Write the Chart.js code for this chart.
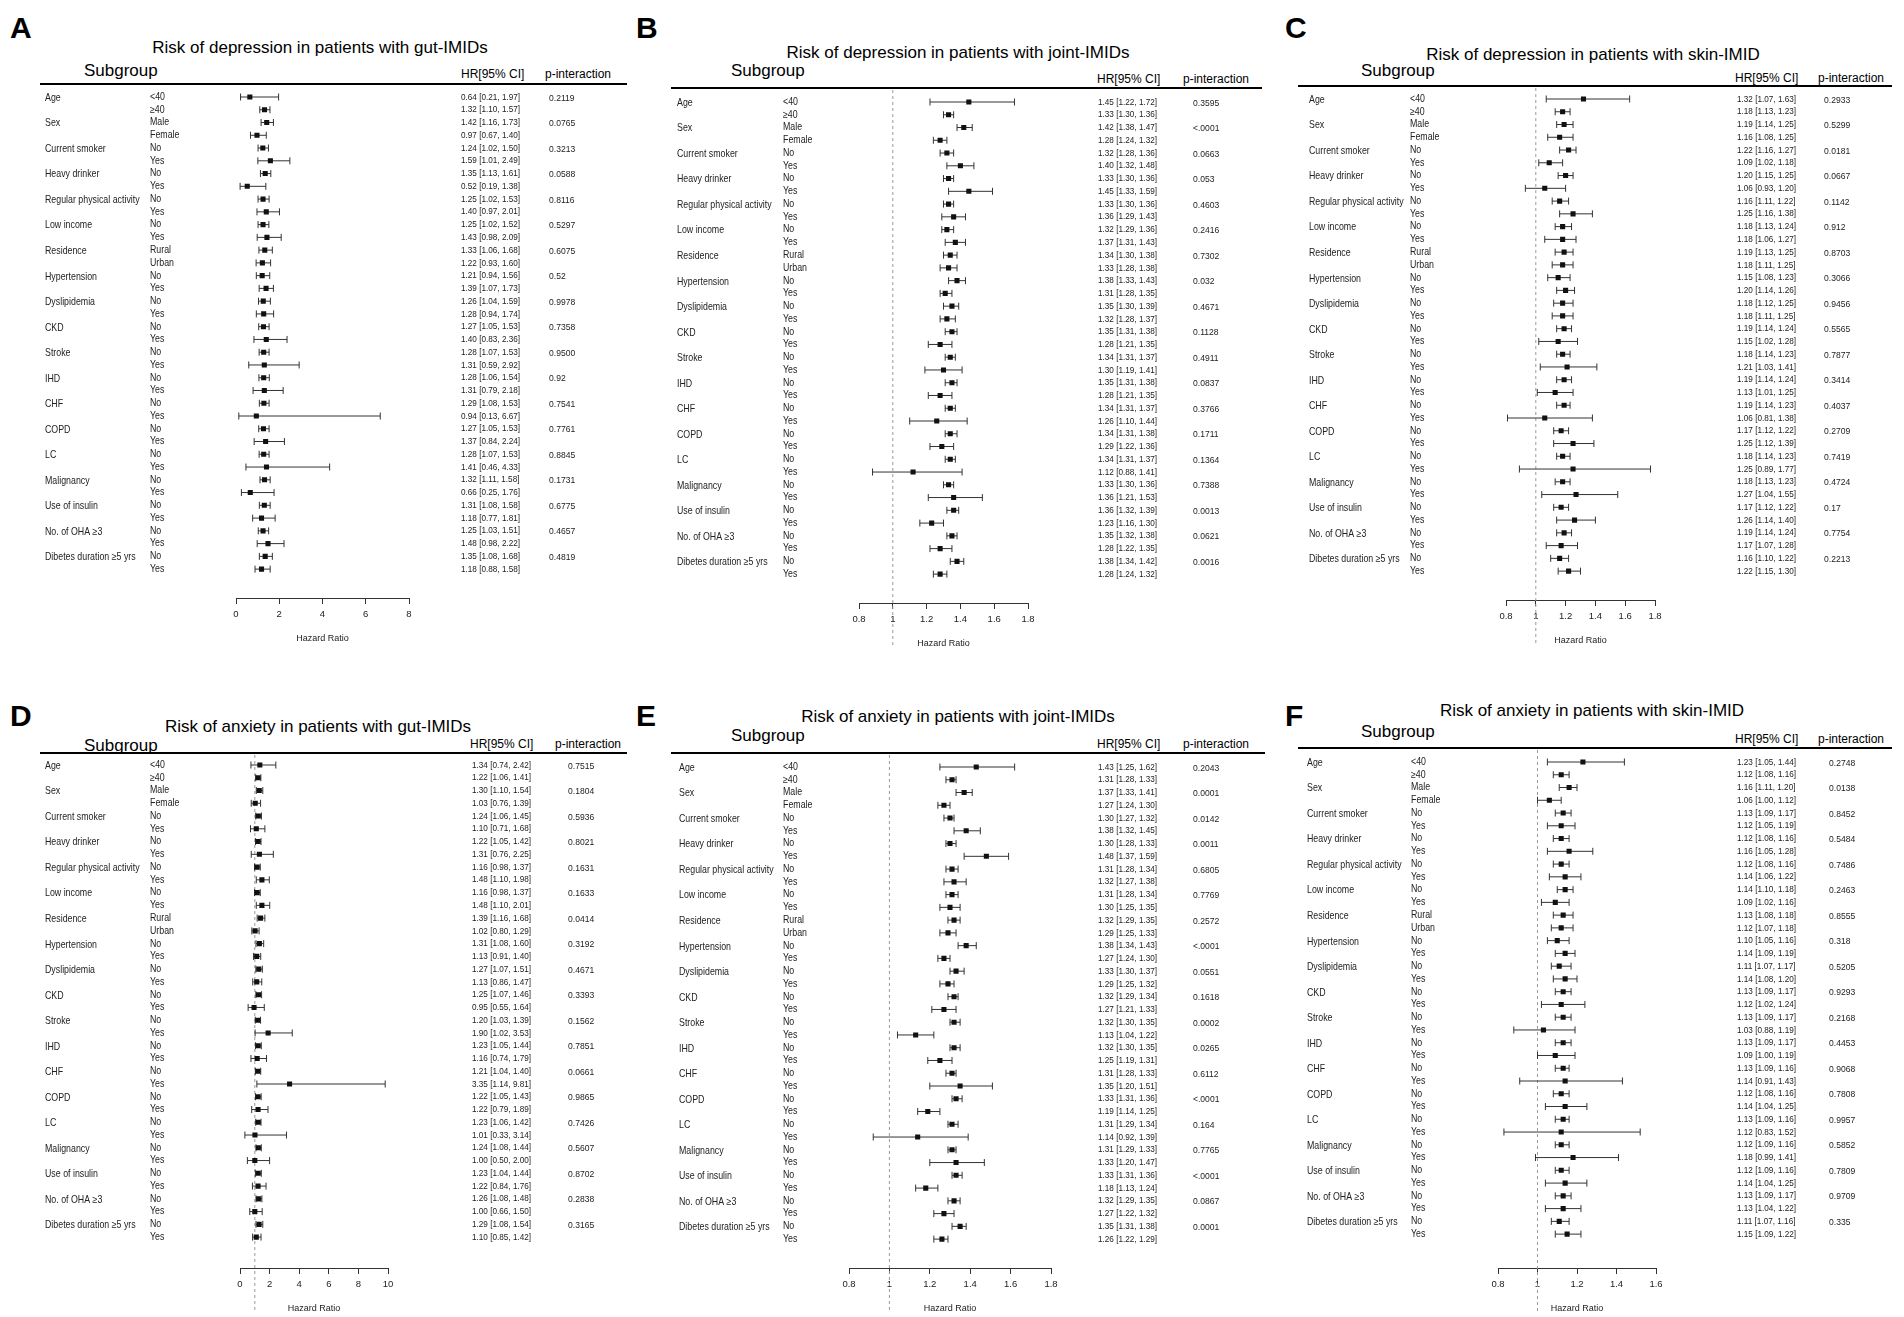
<!DOCTYPE html>
<html>
<head>
<meta charset="utf-8">
<script src="https://cdn.jsdelivr.net/npm/chart.js@4.4.1/dist/chart.umd.min.js"></script>
<style>
body { margin: 0; background: #fff; width: 1904px; height: 1317px; position: relative; overflow: hidden; font-family: "Liberation Sans", Arial, sans-serif; }
.box { position: absolute; }
.t { position: absolute; white-space: nowrap; color: #111; line-height: 1; transform: translateY(-50%); }
.hl { position: absolute; height: 1.5px; background: #000; }
</style>
</head>
<body>
<script>
// row labels shared by all six panels
const groupLabels = ['Age', 'Sex', 'Current smoker', 'Heavy drinker', 'Regular physical activity', 'Low income',
    'Residence', 'Hypertension', 'Dyslipidemia', 'CKD', 'Stroke', 'IHD', 'CHF', 'COPD', 'LC', 'Malignancy',
    'Use of insulin', 'No. of OHA ≥3', 'Dibetes duration ≥5 yrs'];
const levelLabels = ['<40', '≥40', 'Male', 'Female', 'No', 'Yes', 'No', 'Yes', 'No', 'Yes', 'No', 'Yes',
    'Rural', 'Urban', 'No', 'Yes', 'No', 'Yes', 'No', 'Yes', 'No', 'Yes', 'No', 'Yes', 'No', 'Yes',
    'No', 'Yes', 'No', 'Yes', 'No', 'Yes', 'No', 'Yes', 'No', 'Yes', 'No', 'Yes'];

// A: depression, gut-IMIDs
const aHR = [0.64, 1.32, 1.42, 0.97, 1.24, 1.59, 1.35, 0.52, 1.25, 1.40, 1.25, 1.43, 1.33, 1.22, 1.21, 1.39, 1.26, 1.28, 1.27,
    1.40, 1.28, 1.31, 1.28, 1.31, 1.29, 0.94, 1.27, 1.37, 1.28, 1.41, 1.32, 0.66, 1.31, 1.18, 1.25, 1.48, 1.35, 1.18];
const aLow = [0.21, 1.10, 1.16, 0.67, 1.02, 1.01, 1.13, 0.19, 1.02, 0.97, 1.02, 0.98, 1.06, 0.93, 0.94, 1.07, 1.04, 0.94, 1.05,
    0.83, 1.07, 0.59, 1.06, 0.79, 1.08, 0.13, 1.05, 0.84, 1.07, 0.46, 1.11, 0.25, 1.08, 0.77, 1.03, 0.98, 1.08, 0.88];
const aHigh = [1.97, 1.57, 1.73, 1.40, 1.50, 2.49, 1.61, 1.38, 1.53, 2.01, 1.52, 2.09, 1.68, 1.60, 1.56, 1.73, 1.59, 1.74, 1.53,
    2.36, 1.53, 2.92, 1.54, 2.18, 1.53, 6.67, 1.53, 2.24, 1.53, 4.33, 1.58, 1.76, 1.58, 1.81, 1.51, 2.22, 1.68, 1.58];
const aP = ['0.2119', '0.0765', '0.3213', '0.0588', '0.8116', '0.5297', '0.6075', '0.52', '0.9978', '0.7358',
    '0.9500', '0.92', '0.7541', '0.7761', '0.8845', '0.1731', '0.6775', '0.4657', '0.4819'];
const aTicks = [0, 2, 4, 6, 8];

// B: depression, joint-IMIDs
const bHR = [1.45, 1.33, 1.42, 1.28, 1.32, 1.40, 1.33, 1.45, 1.33, 1.36, 1.32, 1.37, 1.34, 1.33, 1.38, 1.31, 1.35, 1.32, 1.35,
    1.28, 1.34, 1.30, 1.35, 1.28, 1.34, 1.26, 1.34, 1.29, 1.34, 1.12, 1.33, 1.36, 1.36, 1.23, 1.35, 1.28, 1.38, 1.28];
const bLow = [1.22, 1.30, 1.38, 1.24, 1.28, 1.32, 1.30, 1.33, 1.30, 1.29, 1.29, 1.31, 1.30, 1.28, 1.33, 1.28, 1.30, 1.28, 1.31,
    1.21, 1.31, 1.19, 1.31, 1.21, 1.31, 1.10, 1.31, 1.22, 1.31, 0.88, 1.30, 1.21, 1.32, 1.16, 1.32, 1.22, 1.34, 1.24];
const bHigh = [1.72, 1.36, 1.47, 1.32, 1.36, 1.48, 1.36, 1.59, 1.36, 1.43, 1.36, 1.43, 1.38, 1.38, 1.43, 1.35, 1.39, 1.37, 1.38,
    1.35, 1.37, 1.41, 1.38, 1.35, 1.37, 1.44, 1.38, 1.36, 1.37, 1.41, 1.36, 1.53, 1.39, 1.30, 1.38, 1.35, 1.42, 1.32];
const bP = ['0.3595', '<.0001', '0.0663', '0.053', '0.4603', '0.2416', '0.7302', '0.032', '0.4671', '0.1128',
    '0.4911', '0.0837', '0.3766', '0.1711', '0.1364', '0.7388', '0.0013', '0.0621', '0.0016'];
const bTicks = [0.8, 1, 1.2, 1.4, 1.6, 1.8];

// C: depression, skin-IMID
const cHR = [1.32, 1.18, 1.19, 1.16, 1.22, 1.09, 1.20, 1.06, 1.16, 1.25, 1.18, 1.18, 1.19, 1.18, 1.15, 1.20, 1.18, 1.18, 1.19,
    1.15, 1.18, 1.21, 1.19, 1.13, 1.19, 1.06, 1.17, 1.25, 1.18, 1.25, 1.18, 1.27, 1.17, 1.26, 1.19, 1.17, 1.16, 1.22];
const cLow = [1.07, 1.13, 1.14, 1.08, 1.16, 1.02, 1.15, 0.93, 1.11, 1.16, 1.13, 1.06, 1.13, 1.11, 1.08, 1.14, 1.12, 1.11, 1.14,
    1.02, 1.14, 1.03, 1.14, 1.01, 1.14, 0.81, 1.12, 1.12, 1.14, 0.89, 1.13, 1.04, 1.12, 1.14, 1.14, 1.07, 1.10, 1.15];
const cHigh = [1.63, 1.23, 1.25, 1.25, 1.27, 1.18, 1.25, 1.20, 1.22, 1.38, 1.24, 1.27, 1.25, 1.25, 1.23, 1.26, 1.25, 1.25, 1.24,
    1.28, 1.23, 1.41, 1.24, 1.25, 1.23, 1.38, 1.22, 1.39, 1.23, 1.77, 1.23, 1.55, 1.22, 1.40, 1.24, 1.28, 1.22, 1.30];
const cP = ['0.2933', '0.5299', '0.0181', '0.0667', '0.1142', '0.912', '0.8703', '0.3066', '0.9456', '0.5565',
    '0.7877', '0.3414', '0.4037', '0.2709', '0.7419', '0.4724', '0.17', '0.7754', '0.2213'];
const cTicks = [0.8, 1, 1.2, 1.4, 1.6, 1.8];

// D: anxiety, gut-IMIDs
const dHR = [1.34, 1.22, 1.30, 1.03, 1.24, 1.10, 1.22, 1.31, 1.16, 1.48, 1.16, 1.48, 1.39, 1.02, 1.31, 1.13, 1.27, 1.13, 1.25,
    0.95, 1.20, 1.90, 1.23, 1.16, 1.21, 3.35, 1.22, 1.22, 1.23, 1.01, 1.24, 1.00, 1.23, 1.22, 1.26, 1.00, 1.29, 1.10];
const dLow = [0.74, 1.06, 1.10, 0.76, 1.06, 0.71, 1.05, 0.76, 0.98, 1.10, 0.98, 1.10, 1.16, 0.80, 1.08, 0.91, 1.07, 0.86, 1.07,
    0.55, 1.03, 1.02, 1.05, 0.74, 1.04, 1.14, 1.05, 0.79, 1.06, 0.33, 1.08, 0.50, 1.04, 0.84, 1.08, 0.66, 1.08, 0.85];
const dHigh = [2.42, 1.41, 1.54, 1.39, 1.45, 1.68, 1.42, 2.25, 1.37, 1.98, 1.37, 2.01, 1.68, 1.29, 1.60, 1.40, 1.51, 1.47, 1.46,
    1.64, 1.39, 3.53, 1.44, 1.79, 1.40, 9.81, 1.43, 1.89, 1.42, 3.14, 1.44, 2.00, 1.44, 1.76, 1.48, 1.50, 1.54, 1.42];
const dP = ['0.7515', '0.1804', '0.5936', '0.8021', '0.1631', '0.1633', '0.0414', '0.3192', '0.4671', '0.3393',
    '0.1562', '0.7851', '0.0661', '0.9865', '0.7426', '0.5607', '0.8702', '0.2838', '0.3165'];
const dTicks = [0, 2, 4, 6, 8, 10];

// E: anxiety, joint-IMIDs
const eHR = [1.43, 1.31, 1.37, 1.27, 1.30, 1.38, 1.30, 1.48, 1.31, 1.32, 1.31, 1.30, 1.32, 1.29, 1.38, 1.27, 1.33, 1.29, 1.32,
    1.27, 1.32, 1.13, 1.32, 1.25, 1.31, 1.35, 1.33, 1.19, 1.31, 1.14, 1.31, 1.33, 1.33, 1.18, 1.32, 1.27, 1.35, 1.26];
const eLow = [1.25, 1.28, 1.33, 1.24, 1.27, 1.32, 1.28, 1.37, 1.28, 1.27, 1.28, 1.25, 1.29, 1.25, 1.34, 1.24, 1.30, 1.25, 1.29,
    1.21, 1.30, 1.04, 1.30, 1.19, 1.28, 1.20, 1.31, 1.14, 1.29, 0.92, 1.29, 1.20, 1.31, 1.13, 1.29, 1.22, 1.31, 1.22];
const eHigh = [1.62, 1.33, 1.41, 1.30, 1.32, 1.45, 1.33, 1.59, 1.34, 1.38, 1.34, 1.35, 1.35, 1.33, 1.43, 1.30, 1.37, 1.32, 1.34,
    1.33, 1.35, 1.22, 1.35, 1.31, 1.33, 1.51, 1.36, 1.25, 1.34, 1.39, 1.33, 1.47, 1.36, 1.24, 1.35, 1.32, 1.38, 1.29];
const eP = ['0.2043', '0.0001', '0.0142', '0.0011', '0.6805', '0.7769', '0.2572', '<.0001', '0.0551', '0.1618',
    '0.0002', '0.0265', '0.6112', '<.0001', '0.164', '0.7765', '<.0001', '0.0867', '0.0001'];
const eTicks = [0.8, 1, 1.2, 1.4, 1.6, 1.8];

// F: anxiety, skin-IMID
const fHR = [1.23, 1.12, 1.16, 1.06, 1.13, 1.12, 1.12, 1.16, 1.12, 1.14, 1.14, 1.09, 1.13, 1.12, 1.10, 1.14, 1.11, 1.14, 1.13,
    1.12, 1.13, 1.03, 1.13, 1.09, 1.13, 1.14, 1.12, 1.14, 1.13, 1.12, 1.12, 1.18, 1.12, 1.14, 1.13, 1.13, 1.11, 1.15];
const fLow = [1.05, 1.08, 1.11, 1.00, 1.09, 1.05, 1.08, 1.05, 1.08, 1.06, 1.10, 1.02, 1.08, 1.07, 1.05, 1.09, 1.07, 1.08, 1.09,
    1.02, 1.09, 0.88, 1.09, 1.00, 1.09, 0.91, 1.08, 1.04, 1.09, 0.83, 1.09, 0.99, 1.09, 1.04, 1.09, 1.04, 1.07, 1.09];
const fHigh = [1.44, 1.16, 1.20, 1.12, 1.17, 1.19, 1.16, 1.28, 1.16, 1.22, 1.18, 1.16, 1.18, 1.18, 1.16, 1.19, 1.17, 1.20, 1.17,
    1.24, 1.17, 1.19, 1.17, 1.19, 1.16, 1.43, 1.16, 1.25, 1.16, 1.52, 1.16, 1.41, 1.16, 1.25, 1.17, 1.22, 1.16, 1.22];
const fP = ['0.2748', '0.0138', '0.8452', '0.5484', '0.7486', '0.2463', '0.8555', '0.318', '0.5205', '0.9293',
    '0.2168', '0.4453', '0.9068', '0.7808', '0.9957', '0.5852', '0.7809', '0.9709', '0.335'];
const fTicks = [0.8, 1, 1.2, 1.4, 1.6];

const ROWFONT = '"Liberation Sans", Arial, sans-serif';

// panel placement (page pixels)
var panels = [
    { letter: 'A', title: 'Risk of depression in patients with gut-IMIDs', hr: aHR, lo: aLow, hi: aHigh, p: aP, ticks: aTicks,
      L: { letterX: 10, letterY: 28, titleX: 320, titleY: 47, subX: 84, subY: 70, headY: 74, hrHeadX: 461, pHeadX: 545,
           lineY: 83, x1: 40, x2: 627, row0: 97, rowH: 12.76, gx: 45, sx: 150, hx: 461, px: 549,
           px0: 236, px1: 409, axisY: 598, ref: false } },
    { letter: 'B', title: 'Risk of depression in patients with joint-IMIDs', hr: bHR, lo: bLow, hi: bHigh, p: bP, ticks: bTicks,
      L: { letterX: 636, letterY: 28, titleX: 958, titleY: 52, subX: 731, subY: 70, headY: 79, hrHeadX: 1097, pHeadX: 1183,
           lineY: 87, x1: 671, x2: 1262, row0: 102, rowH: 12.76, gx: 677, sx: 783, hx: 1098, px: 1193,
           px0: 859, px1: 1028, axisY: 603, ref: true } },
    { letter: 'C', title: 'Risk of depression in patients with skin-IMID', hr: cHR, lo: cLow, hi: cHigh, p: cP, ticks: cTicks,
      L: { letterX: 1285, letterY: 28, titleX: 1593, titleY: 54, subX: 1361, subY: 70, headY: 78, hrHeadX: 1735, pHeadX: 1818,
           lineY: 85, x1: 1298, x2: 1892, row0: 99, rowH: 12.76, gx: 1309, sx: 1410, hx: 1737, px: 1824,
           px0: 1506, px1: 1655, axisY: 600, ref: true } },
    { letter: 'D', title: 'Risk of anxiety in patients with gut-IMIDs', hr: dHR, lo: dLow, hi: dHigh, p: dP, ticks: dTicks,
      L: { letterX: 10, letterY: 716, titleX: 318, titleY: 726, subX: 84, subY: 745, headY: 744, hrHeadX: 470, pHeadX: 555,
           lineY: 752, x1: 40, x2: 627, row0: 765, rowH: 12.76, gx: 45, sx: 150, hx: 472, px: 568,
           px0: 240, px1: 388, axisY: 1268, ref: true } },
    { letter: 'E', title: 'Risk of anxiety in patients with joint-IMIDs', hr: eHR, lo: eLow, hi: eHigh, p: eP, ticks: eTicks,
      L: { letterX: 636, letterY: 716, titleX: 958, titleY: 716, subX: 731, subY: 735, headY: 744, hrHeadX: 1097, pHeadX: 1183,
           lineY: 752, x1: 671, x2: 1265, row0: 767, rowH: 12.76, gx: 679, sx: 783, hx: 1098, px: 1193,
           px0: 849, px1: 1051, axisY: 1268, ref: true } },
    { letter: 'F', title: 'Risk of anxiety in patients with skin-IMID', hr: fHR, lo: fLow, hi: fHigh, p: fP, ticks: fTicks,
      L: { letterX: 1285, letterY: 716, titleX: 1592, titleY: 710, subX: 1361, subY: 731, headY: 739, hrHeadX: 1735, pHeadX: 1818,
           lineY: 747, x1: 1298, x2: 1892, row0: 762, rowH: 12.76, gx: 1307, sx: 1411, hx: 1737, px: 1829,
           px0: 1498, px1: 1656, axisY: 1268, ref: true } }
];

function addText(txt, x, y, size, extra) {
    var d = document.createElement('div');
    d.className = 't';
    d.textContent = txt;
    d.style.left = x + 'px';
    d.style.top = y + 'px';
    d.style.fontSize = size + 'px';
    if (extra) d.style.cssText += extra;
    document.body.appendChild(d);
    return d;
}

function fmt(v) { return v.toFixed(2); }

// condensed text, like the narrow face of the original
function narrowText(ctx, s, x, y, sx) {
    ctx.save();
    ctx.translate(x, y);
    ctx.scale(sx, 1);
    ctx.fillText(s, 0, 0);
    ctx.restore();
}

// rows text, reference line: drawn with the chart's own scales
var forestText = {
    id: 'forestText',
    beforeDatasetsDraw(chart, args, opts) {
        if (!opts.ref) return;
        var ctx = chart.ctx;
        var x = chart.scales.x.getPixelForValue(1);
        ctx.save();
        ctx.strokeStyle = '#9a9a9a';
        ctx.lineWidth = 1;
        ctx.setLineDash([3, 3]);
        ctx.beginPath();
        ctx.moveTo(x, 2);
        ctx.lineTo(x, chart.height - 8);
        ctx.stroke();
        ctx.restore();
    },
    afterDraw(chart, args, opts) {
        var ctx = chart.ctx, ys = chart.scales.y;
        var P = opts.panel, L = P.L, off = opts.left;
        ctx.save();
        ctx.fillStyle = '#222';
        ctx.textBaseline = 'middle';
        ctx.textAlign = 'left';
        for (var i = 0; i < P.hr.length; i++) {
            var y = ys.getPixelForValue(i);
            ctx.font = '10.5px ' + ROWFONT;
            if (i % 2 === 0) narrowText(ctx, groupLabels[i / 2], L.gx - off, y + 1, 0.84);
            narrowText(ctx, levelLabels[i], L.sx - off, y, 0.84);
            ctx.font = '9.5px ' + ROWFONT;
            narrowText(ctx, fmt(P.hr[i]) + ' [' + fmt(P.lo[i]) + ', ' + fmt(P.hi[i]) + ']', L.hx - off, y, 0.86);
            if (i % 2 === 0) narrowText(ctx, P.p[i / 2], L.px - off, y + 1, 0.9);
        }
        ctx.restore();
    }
};

panels.forEach(function (P) {
    var L = P.L;
    addText(P.letter, L.letterX, L.letterY, 30, 'font-weight:bold;color:#000;');
    addText(P.title, L.titleX, L.titleY, 17, 'transform:translate(-50%,-50%);color:#000;');
    addText('Subgroup', L.subX, L.subY, 17, 'color:#000;');
    addText('HR[95% CI]', L.hrHeadX, L.headY, 12, 'color:#000;');
    addText('p-interaction', L.pHeadX, L.headY, 12, 'color:#000;');
    var hl = document.createElement('div');
    hl.className = 'hl';
    hl.style.left = L.x1 + 'px';
    hl.style.top = L.lineY + 'px';
    hl.style.width = (L.x2 - L.x1) + 'px';
    document.body.appendChild(hl);

    var cl = L.x1 - 8, ct = L.lineY + 1;
    var cw = L.x2 + 12 - cl, ch = L.axisY + 52 - ct;
    var box = document.createElement('div');
    box.className = 'box';
    box.style.cssText = 'left:' + cl + 'px;top:' + ct + 'px;width:' + cw + 'px;height:' + ch + 'px;';
    var cv = document.createElement('canvas');
    box.appendChild(cv);
    document.body.appendChild(box);

    var whiskers = [], caps = [], marks = [];
    for (var i = 0; i < P.hr.length; i++) {
        whiskers.push({ x: P.lo[i], y: i }, { x: P.hi[i], y: i }, { x: null, y: null });
        caps.push({ x: P.lo[i], y: i }, { x: P.hi[i], y: i });
        marks.push({ x: P.hr[i], y: i });
    }
    var ticks = P.ticks;

    new Chart(cv, {
        type: 'scatter',
        data: {
            datasets: [
                { data: marks, order: 0, pointStyle: 'rect', pointRadius: 3.6, backgroundColor: '#111', borderWidth: 0 },
                { data: caps, order: 1, pointStyle: 'line', pointRotation: 90, pointRadius: 3.5, borderColor: '#333', borderWidth: 1 },
                { data: whiskers, order: 2, showLine: true, spanGaps: false, pointRadius: 0, borderColor: '#333', borderWidth: 1 }
            ]
        },
        options: {
            responsive: true,
            maintainAspectRatio: false,
            animation: false,
            events: [],
            layout: {
                padding: { left: L.px0 - cl, right: cl + cw - L.px1, top: L.row0 - L.rowH / 2 - ct, bottom: 6 }
            },
            plugins: {
                legend: { display: false },
                tooltip: { enabled: false },
                forestText: { panel: P, left: cl, ref: L.ref }
            },
            scales: {
                x: {
                    type: 'linear',
                    min: ticks[0],
                    max: ticks[ticks.length - 1],
                    afterBuildTicks: function (s) { s.ticks = ticks.map(function (v) { return { value: v }; }); },
                    afterFit: function (s) { s.height = 46; },
                    grid: { drawOnChartArea: false, drawTicks: true, tickLength: 6, color: '#333', lineWidth: 1 },
                    border: { display: true, color: '#333', width: 1 },
                    ticks: {
                        autoSkip: false, maxRotation: 0, padding: 5, color: '#222',
                        font: { family: ROWFONT, size: 9.5 },
                        callback: function (v) { return String(v); }
                    },
                    title: {
                        display: true, text: 'Hazard Ratio', color: '#222',
                        font: { family: ROWFONT, size: 9 }, padding: { top: 4, bottom: 0 }
                    }
                },
                y: {
                    type: 'linear',
                    reverse: true,
                    min: -0.5,
                    max: (L.axisY - L.row0) / L.rowH,
                    display: false
                }
            }
        },
        plugins: [forestText]
    });
});
</script>
</body>
</html>
